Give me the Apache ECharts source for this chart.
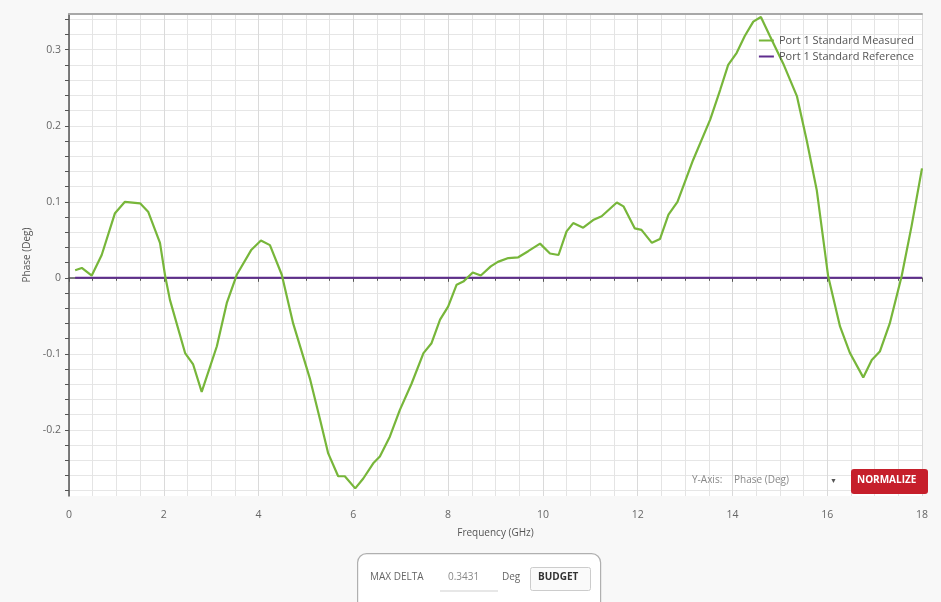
<!DOCTYPE html>
<html>
<head>
<meta charset="utf-8">
<script src="https://cdn.jsdelivr.net/npm/echarts@6/dist/echarts.min.js"></script>
<style>
  html, body { margin: 0; padding: 0; background: #f8f8f8; }
  #chart { width: 941px; height: 602px; }
</style>
</head>
<body>
<div id="chart"></div>
<script>
// Phase deviation of the measured standard against its reference (degrees)
const freqGHz = [
  0.13, 0.27, 0.48, 0.69, 0.97, 1.18, 1.50, 1.67, 1.92, 2.03,
  2.13, 2.45, 2.62, 2.80, 3.12, 3.33, 3.54, 3.85, 4.05, 4.24,
  4.49, 4.73, 5.09, 5.30, 5.47, 5.68, 5.82, 6.04, 6.21, 6.42,
  6.56, 6.77, 6.98, 7.23, 7.48, 7.65, 7.83, 8.00, 8.18, 8.32,
  8.52, 8.69, 8.90, 9.05, 9.27, 9.48, 9.69, 9.94, 10.15, 10.33,
  10.50, 10.64, 10.85, 11.06, 11.24, 11.56, 11.70, 11.94, 12.08, 12.30,
  12.47, 12.65, 12.84, 13.17, 13.53, 13.74, 13.91, 14.09, 14.26, 14.44,
  14.60, 14.79, 15.07, 15.36, 15.57, 15.78, 16.02, 16.27, 16.48, 16.76,
  16.94, 17.11, 17.32, 17.57, 17.78, 18.00
];
const measuredDeg = [
  0.010, 0.013, 0.003, 0.030, 0.085, 0.100, 0.098, 0.087, 0.046, 0.002,
  -0.029, -0.099, -0.114, -0.150, -0.090, -0.033, 0.004, 0.037, 0.049, 0.043,
  0.004, -0.060, -0.134, -0.187, -0.231, -0.261, -0.261, -0.277, -0.264, -0.244,
  -0.235, -0.209, -0.174, -0.139, -0.099, -0.086, -0.055, -0.038, -0.009, -0.005,
  0.007, 0.003, 0.015, 0.021, 0.026, 0.027, 0.035, 0.045, 0.032, 0.030,
  0.061, 0.072, 0.066, 0.076, 0.081, 0.099, 0.094, 0.065, 0.063, 0.046,
  0.051, 0.083, 0.100, 0.155, 0.208, 0.247, 0.280, 0.296, 0.318, 0.337,
  0.3431, 0.318, 0.282, 0.239, 0.180, 0.115, 0.002, -0.064, -0.099, -0.131,
  -0.108, -0.097, -0.060, 0.002, 0.068, 0.144
];
const referenceFreqGHz = [0.13, 18.00];
const referenceDeg = [0, 0];

const yLabelValues = [-0.2, -0.1, 0, 0.1, 0.2, 0.3];
const yTickValues = [
  -0.28, -0.26, -0.24, -0.22, -0.20, -0.18, -0.16, -0.14, -0.12, -0.10,
  -0.08, -0.06, -0.04, -0.02, 0, 0.02, 0.04, 0.06, 0.08, 0.10,
  0.12, 0.14, 0.16, 0.18, 0.20, 0.22, 0.24, 0.26, 0.28, 0.30,
  0.32, 0.34
];

const seriesNames = ['Port 1 Standard Measured', 'Port 1 Standard Reference'];

const FONT = '"Open Sans", "Noto Sans", sans-serif';

// Largest absolute deviation from the reference
const maxDelta = Math.max(...measuredDeg.map(v => Math.abs(v)));

const chart = echarts.init(document.getElementById('chart'), null, { renderer: 'canvas' });

chart.setOption({
  backgroundColor: '#f8f8f8',
  animation: false,
  textStyle: { fontFamily: FONT },
  grid: {
    left: 69, right: 19, top: 14, bottom: 106,
    show: true, backgroundColor: '#ffffff', borderWidth: 0
  },
  legend: {
    data: seriesNames,
    orient: 'vertical',
    right: 22, top: 30,
    icon: 'rect', itemWidth: 15, itemHeight: 2, itemGap: 5,
    textStyle: { fontFamily: FONT, fontSize: 11, color: '#555' }
  },
  xAxis: [{
    type: 'value', min: 0, max: 18, interval: 2,
    name: 'Frequency (GHz)', nameLocation: 'middle', nameGap: 32,
    nameTextStyle: { fontFamily: FONT, fontSize: 10, color: '#555' },
    axisLine: { show: true, lineStyle: { color: '#555', width: 1.5 } },
    axisTick: { show: true, length: 4, lineStyle: { color: '#555' } },
    minorTick: { show: true, splitNumber: 4, length: 3, lineStyle: { color: '#555' } },
    axisLabel: { fontFamily: FONT, fontSize: 10.5, color: '#666', margin: 14 },
    splitLine: { show: true, lineStyle: { color: '#dadada', width: 1 } },
    minorSplitLine: { show: true, lineStyle: { color: '#e4e4e4', width: 1 } }
  }, {
    type: 'value', min: 0, max: 18, position: 'top',
    axisLine: { show: true, lineStyle: { color: '#a8a8a8', width: 2 } },
    axisTick: { show: false }, axisLabel: { show: false }, splitLine: { show: false }
  }],
  yAxis: {
    type: 'value', min: -0.287, max: 0.347,
    name: 'Phase (Deg)', nameLocation: 'middle', nameGap: 37, nameRotate: 90,
    nameTextStyle: { fontFamily: FONT, fontSize: 10, color: '#555' },
    axisLine: { show: true, lineStyle: { color: '#555', width: 1.5 } },
    axisTick: { show: true, length: 4, customValues: yTickValues, lineStyle: { color: '#555' } },
    axisLabel: {
      fontFamily: FONT, fontSize: 10.5, color: '#666', margin: 8,
      customValues: yLabelValues,
      formatter: v => String(Math.round(v * 10) / 10)
    },
    splitLine: { show: true, lineStyle: { color: '#e6e6e6', width: 1 } }
  },
  series: [{
    name: seriesNames[0],
    type: 'line',
    data: freqGHz.map((f, i) => [f, measuredDeg[i]]),
    showSymbol: false, smooth: false,
    lineStyle: { color: '#77b63a', width: 2.2 },
    itemStyle: { color: '#77b63a' },
    z: 3
  }, {
    name: seriesNames[1],
    type: 'line',
    data: referenceFreqGHz.map((f, i) => [f, referenceDeg[i]]),
    showSymbol: false,
    lineStyle: { color: '#5f2d8e', width: 2 },
    itemStyle: { color: '#5f2d8e' },
    z: 2
  }],
  graphic: [
    // Y-axis selector and normalize button
    { type: 'text', left: 692, top: 475, z: 10,
      style: { text: 'Y-Axis:', font: '10px ' + FONT, fill: '#888' } },
    { type: 'text', left: 734, top: 475, z: 10,
      style: { text: 'Phase (Deg)', font: '10px ' + FONT, fill: '#888' } },
    { type: 'text', left: 830, top: 477, z: 10,
      style: { text: '▼', font: '7px ' + FONT, fill: '#555' } },
    { type: 'rect', left: 851, top: 469, z: 10,
      shape: { width: 77, height: 25, r: 3 },
      style: { fill: '#c61f2b' } },
    { type: 'text', left: 857, top: 475, z: 11,
      style: { text: 'NORMALIZE', font: 'bold 10px ' + FONT, fill: '#ffffff' } },
    // Max delta panel
    { type: 'rect', left: 357, top: 553, z: 10,
      shape: { width: 243, height: 60, r: 9 },
      style: { fill: '#ffffff', stroke: '#b0b0b0', lineWidth: 1.2 } },
    { type: 'text', left: 370, top: 572, z: 11,
      style: { text: 'MAX DELTA', font: '10px ' + FONT, fill: '#666' } },
    { type: 'text', left: 448, top: 572, z: 11,
      style: { text: maxDelta.toFixed(4), font: '10px ' + FONT, fill: '#888' } },
    { type: 'line', z: 11,
      shape: { x1: 440, y1: 591, x2: 498, y2: 591 },
      style: { stroke: '#cfcfcf', lineWidth: 1 } },
    { type: 'text', left: 502, top: 572, z: 11,
      style: { text: 'Deg', font: '10px ' + FONT, fill: '#666' } },
    { type: 'rect', left: 530, top: 567, z: 11,
      shape: { width: 60, height: 23, r: 2 },
      style: { fill: '#fafafa', stroke: '#cccccc', lineWidth: 1 } },
    { type: 'text', left: 538, top: 572, z: 12,
      style: { text: 'BUDGET', font: 'bold 10px ' + FONT, fill: '#333' } }
  ]
});
</script>
</body>
</html>
